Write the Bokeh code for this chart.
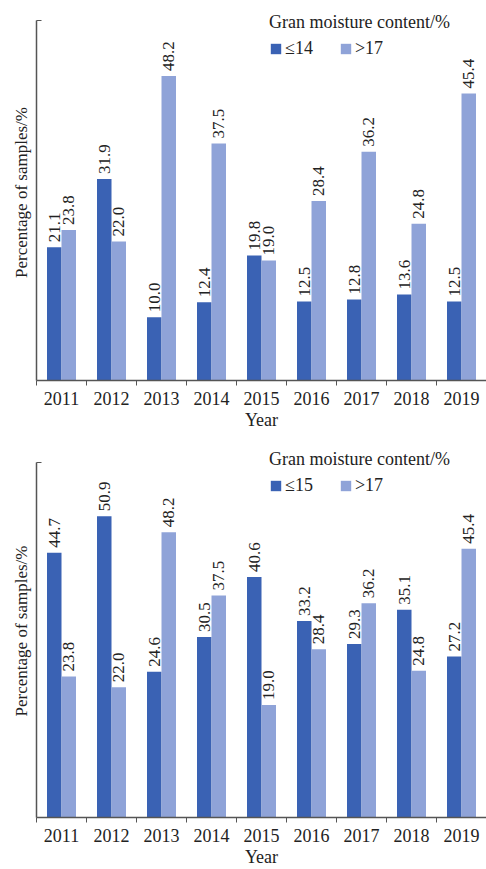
import math
from bokeh.plotting import figure
from bokeh.layouts import column
from bokeh.models import (ColumnDataSource, Range1d, FixedTicker, LinearAxis,
                          Legend, LegendItem)
from bokeh.core.properties import value
from bokeh.embed import file_html
from bokeh.resources import INLINE

years = ["2011", "2012", "2013", "2014", "2015", "2016", "2017", "2018", "2019"]
top_low = [21.1, 31.9, 10.0, 12.4, 19.8, 12.5, 12.8, 13.6, 12.5]
top_high = [23.8, 22.0, 48.2, 37.5, 19.0, 28.4, 36.2, 24.8, 45.4]
bot_low = [44.7, 50.9, 24.6, 30.5, 40.6, 33.2, 29.3, 35.1, 27.2]
bot_high = [23.8, 22.0, 48.2, 37.5, 19.0, 28.4, 36.2, 24.8, 45.4]
top_low_name = "≤14"
bot_low_name = "≤15"
high_name = ">17"
legend_title = "Gran moisture content/%"
ytitle = "Percentage of samples/%"
xtitle = "Year"

DARK = "#3A62B4"
LIGHT = "#8FA3D8"
AXIS = "#555555"
TXT = "#222222"
FONT = "Liberation Serif"


def make_panel(low, high, low_name, axis_max, range_max, height, border_top, border_bottom):
    n = len(years)
    centers = [i + 0.5 for i in range(n)]
    bw = 0.29
    src = ColumnDataSource(dict(
        xl=[c - bw / 2 for c in centers],
        xh=[c + bw / 2 for c in centers],
        low=low, high=high,
        lowt=["%.1f" % v for v in low],
        hight=["%.1f" % v for v in high],
    ))
    p = figure(width=486, height=height, output_backend="svg",
               toolbar_location=None, x_axis_type=None, y_axis_type=None,
               x_range=Range1d(0, n), y_range=Range1d(0, range_max),
               min_border_left=36, min_border_right=0,
               min_border_top=border_top, min_border_bottom=border_bottom)
    p.outline_line_color = None
    p.xgrid.visible = False
    p.ygrid.visible = False
    p.background_fill_color = "white"
    p.border_fill_color = "white"

    r1 = p.vbar(x="xl", top="low", width=bw, bottom=0, source=src,
                fill_color=DARK, line_color=None)
    r2 = p.vbar(x="xh", top="high", width=bw, bottom=0, source=src,
                fill_color=LIGHT, line_color=None)
    for xcol, ycol, tcol in (("xl", "low", "lowt"), ("xh", "high", "hight")):
        p.text(x=xcol, y=ycol, text=tcol, source=src, angle=math.pi / 2,
               text_align="left", text_baseline="middle", y_offset=-5,
               text_font=value(FONT), text_font_style="normal",
               text_font_size="17px", text_color=TXT)

    # y axis: line (bounded) with a single inward tick at the top, no labels
    ya = LinearAxis(ticker=FixedTicker(ticks=[axis_max]), bounds=(0, axis_max),
                    axis_label=ytitle,
                    axis_line_color=AXIS, axis_line_width=1.5,
                    major_tick_line_color=AXIS, major_tick_in=5, major_tick_out=0,
                    minor_tick_line_color=None,
                    major_label_text_font_size="0px",
                    major_label_overrides={axis_max: ""},
                    axis_label_text_font=FONT, axis_label_text_font_style="normal",
                    axis_label_text_font_size="17px", axis_label_text_color=TXT,
                    axis_label_standoff=6)
    p.add_layout(ya, "left")

    # x axis: ticks at category boundaries
    xa1 = LinearAxis(ticker=FixedTicker(ticks=list(range(n + 1))),
                     axis_line_color=AXIS, axis_line_width=1.5,
                     major_tick_line_color=AXIS, major_tick_in=0, major_tick_out=5,
                     minor_tick_line_color=None,
                     major_label_overrides={i: "" for i in range(n + 1)},
                     major_label_text_font_size="1px", major_label_standoff=0)
    p.add_layout(xa1, "below")
    # x axis: year labels at category centres
    xa2 = LinearAxis(ticker=FixedTicker(ticks=centers),
                     axis_line_color=None, major_tick_line_color=None,
                     minor_tick_line_color=None,
                     major_label_overrides={c: y for c, y in zip(centers, years)},
                     major_label_text_font=FONT, major_label_text_font_style="normal",
                     major_label_text_font_size="18px",
                     major_label_text_color=TXT, major_label_standoff=0,
                     axis_label=xtitle, axis_label_text_font=FONT,
                     axis_label_text_font_style="normal",
                     axis_label_text_font_size="18px", axis_label_text_color=TXT,
                     axis_label_standoff=2)
    p.add_layout(xa2, "below")

    leg = Legend(items=[LegendItem(label=low_name, renderers=[r1]),
                        LegendItem(label=high_name, renderers=[r2])],
                 title=legend_title, orientation="horizontal",
                 location=(233, 321),
                 title_text_font=FONT, title_text_font_style="normal",
                 title_text_font_size="18px", title_text_color=TXT,
                 label_text_font=FONT, label_text_font_style="normal",
                 label_text_font_size="18px",
                 label_text_color=TXT, border_line_color=None,
                 background_fill_alpha=0, glyph_width=13, glyph_height=13,
                 spacing=26, padding=2, margin=0, title_standoff=5,
                 label_standoff=3)
    p.add_layout(leg, "center")
    return p


p1 = make_panel(top_low, top_high, top_low_name, 57, 59.5, 440, 4, 60)
p2 = make_panel(bot_low, bot_high, bot_low_name, 60, 63.0, 429, 4, 46)
layout = column(p1, p2, spacing=0)

open("out.html", "w").write(file_html(layout, INLINE))
